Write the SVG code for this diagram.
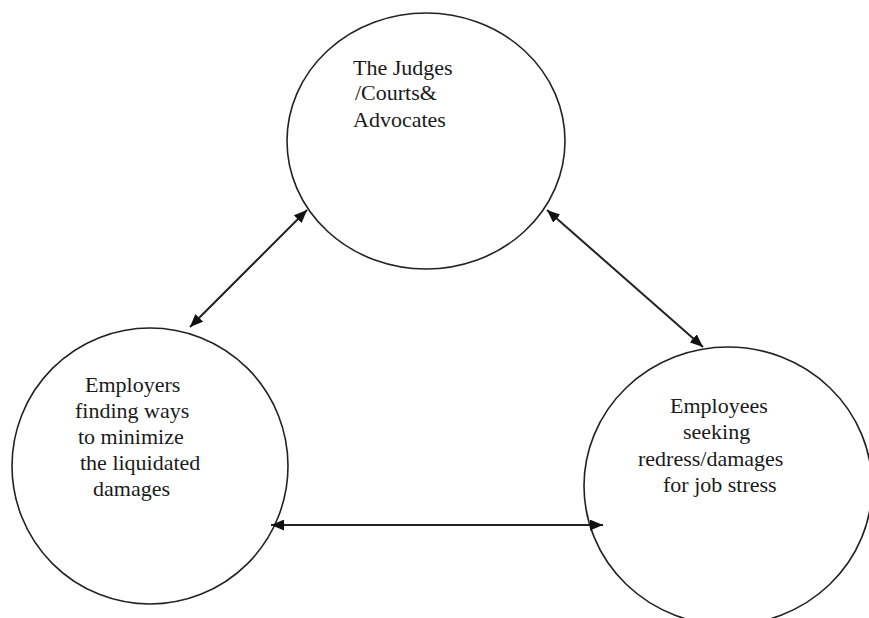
<svg xmlns="http://www.w3.org/2000/svg" width="869" height="618" viewBox="0 0 869 618">
  <style>
    .node { fill: #ffffff; stroke: #222222; stroke-width: 1.6; }
    .label { font-family: "Liberation Serif", "Times New Roman", serif; font-size: 22px; fill: #1a1a1a; }
    .link { stroke: #222222; stroke-width: 2; fill: none; marker-start: url(#head); marker-end: url(#head); }
  </style>
  <defs>
    <marker id="head" viewBox="0 0 12 10" refX="12" refY="5" markerWidth="13" markerHeight="11" markerUnits="userSpaceOnUse" orient="auto-start-reverse">
      <path d="M0,0 L12,5 L0,10 Z" fill="#111111"/>
    </marker>
  </defs>
  <rect width="869" height="618" fill="#ffffff"/>

  <!-- top: courts -->
  <g id="courts">
    <ellipse class="node" cx="426" cy="141" rx="139" ry="128"/>
    <text class="label">
      <tspan x="353" y="75">The Judges</tspan>
      <tspan x="355" y="100">/Courts&amp;</tspan>
      <tspan x="353" y="127">Advocates</tspan>
    </text>
  </g>

  <!-- lower left: employers -->
  <g id="employers">
    <ellipse class="node" cx="150" cy="466" rx="138" ry="138"/>
    <text class="label">
      <tspan x="85" y="392">Employers</tspan>
      <tspan x="75" y="418">finding ways</tspan>
      <tspan x="78" y="444">to minimize</tspan>
      <tspan x="80" y="470">the liquidated</tspan>
      <tspan x="93" y="496">damages</tspan>
    </text>
  </g>

  <!-- lower right: employees -->
  <g id="employees">
    <ellipse class="node" cx="728" cy="486" rx="144" ry="139"/>
    <text class="label">
      <tspan x="670" y="413">Employees</tspan>
      <tspan x="683" y="439">seeking</tspan>
      <tspan x="638" y="466">redress/damages</tspan>
      <tspan x="663" y="492">for job stress</tspan>
    </text>
  </g>

  <!-- two-way connectors -->
  <g id="connectors">
    <line class="link" x1="190" y1="327" x2="307" y2="210"/>
    <line class="link" x1="547" y1="210" x2="703" y2="347"/>
    <line class="link" x1="271" y1="525" x2="603" y2="525"/>
  </g>
</svg>
